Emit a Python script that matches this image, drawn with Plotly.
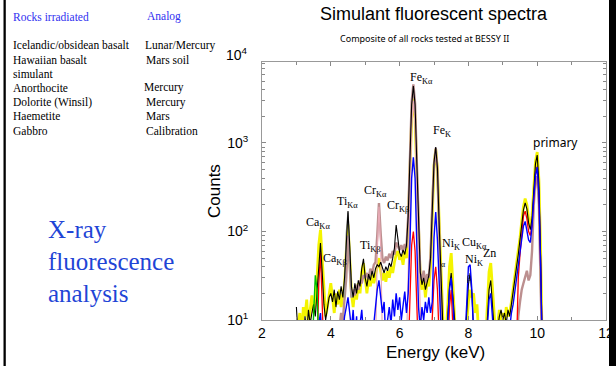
import plotly.graph_objects as go

N = None
# Energy sampling grid (keV), 3.00 .. 10.20 in 0.05 steps
ENERGY = [round(3.0 + 0.05 * i, 2) for i in range(145)]

YELLOW = ([4, 9, 12, 6, 14, 11, 17, 8, 13, 19, 12, 16, 30, 70, 105, 45, 18, 11, 14, 20] +
          [26, 18, 12, 20, 15, 22, 14, 19, 25, 60, 120, 50, 20, 14, 22, 17, 26, 20, 35, 44] +
          [28, 20, 30, 24, 34, 26, 32, 40, 50, 36, 28, 34, 27, 36, 30, 40, 34, 45, 55, 60] +
          [48, 55, 42, 60, 50, 110, 420, 1900, 3200, 1900, 420, 80, 30, 22, 32, 18, 28, 24, 40, 150] +
          [550, 850, 500, 130, 30, 8, 4, 7, 14, 40, 57, 25, 9, 4, 6, 4, 3, 5, 4, 9] +
          [16, 22, 18, 20, 12, 15, 5, 3, 4, 3, 6, 14, 35, 44, 22, 10, 6, 9, 13, 8] +
          [12, 9, 14, 11, 12, 16, 22, 32, 45, 62, 85, 130, 190, 235, 200, 140, 112, 150, 320, 620] +
          [790, 380, 60, 4, N])

BLACK = ([14, 4, 3, 8, 5, 11, 7, 13, 9, 12, 15, 11, 22, 50, 74, 35, 15, 10, 13, 18] +
         [20, 16, 22, 14, 21, 17, 24, 18, 30, 80, 170, 70, 24, 18, 26, 20, 28, 24, 38, 49] +
         [30, 24, 33, 28, 36, 30, 38, 42, 40, 45, 38, 34, 40, 36, 44, 40, 50, 65, 118, 75] +
         [58, 52, 62, 55, 70, 150, 600, 2700, 4400, 2700, 600, 120, 35, 25, 30, 22, 27, 32, 50, 180] +
         [600, 900, 520, 120, 25, 6, 3, 5, 10, 24, 34, 18, 6, 3, 3, 3, 4, 3, 5, 12] +
         [25, 34, 20, 8, 5, 4, 3, 3, 3, 4, 3, 10, 22, 28, 16, 7, 4, 8, 11, 13] +
         [10, 12, 9, 13, 11, 15, 20, 28, 40, 55, 78, 120, 175, 210, 180, 125, 105, 140, 300, 580] +
         [730, 350, 50, 4, N])

BROWN = ([N] * 20 +
         [N, N, N, N, N, 8, 12, 10, 16, 30, 90, 40, 18, 22, 19, 25, 22, 28, 26, 32] +
         [30, 34, 29, 38, 33, 42, 45, 90, 210, 95, 50, 44, 52, 47, 56, 50, 60, 55, 75, 68] +
         [62, 70, 60, 72, 66, 150, 650, 2900, 4600, 2800, 620, 110, 34, 28, 36, 26, 33, 30, 55, 200] +
         [560, 880, 500, 110, 20, 4] + [N] * 14 +
         [N] * 20 +
         [N] * 8 + [5, 11, 16, 22, 26, 30, 36, 28, 32, 60, 200, 380] +
         [420, 200, 35, 3, N])

PINK = ([N] * 20 + [N] * 20 +
        [N] * 6 + [5, 60, 190, 70, 6] + [N] * 9 +
        [N] * 4 + [5, 40, 300, 1500, 3000, 1600, 280, 40, 8, 3] + [N] * 6 +
        [N] * 20 + [N] * 20 + [N] * 20 + [N] * 5)

GRAY = ([N] * 20 +
        [N] * 8 + [18, 95, 165, 65, 18] + [N] * 7 +
        [N] * 100 + [N] * 5)

BLUE = ([N] * 12 + [3, 9, 12, 6, 3, 5, 3, 4] +
        [3, 6, 3, 4, 3, 5, 3, 7, 11, 14, 18, 12, 8, 13, 6, 11, 4, 9, 13, 7] +
        [4, 8, 3, 5, 3, 9, 14, 22, 28, 18, 12, 16, 6, 10, 14, 9, 17, 11, 20, 13] +
        [18, 10, 15, 21, 12, 20, 72, 400, 690, 400, 72, 14, 8, 14, 10, 16, 12, 18, 12, 16] +
        [85, 166, 80, 14, 4, 3, 3, 5, 9, 22, 30, 16, 5, 3, 3, 3, 3, 4, 6, 15] +
        [40, 42, 22, 7, 3, 3, 3, 3, 3, 3, 4, 9, 17, 20, 12, 5, 3, 6, 10, 8] +
        [6, 9, 5, 10, 8, 12, 15, 21, 30, 42, 58, 85, 115, 130, 105, 80, 75, 115, 240, 430] +
        [535, 260, 40, 4, N])

RED = ([N] * 12 + [4, 25, 58, 20, 4, N, N, N] +
       [N] * 20 + [N] * 20 +
       [N] * 5 + [4, 20, 70, 100, 60, 15, 4] + [N] * 6 + [4, 12] +
       [28, 40, 22, 6, N, N, N, N, 4, 14, 22, 10, 3] + [N] * 7 +
       [N] * 20 +
       [N] * 8 + [5, 30, 55, 100, 150, 170, 140, 100, 90, 120, 250, 440] +
       [540, 260, 40, 4, N])

GREEN = ([N] * 9 + [4, 15, 32, 22, 5] + [N] * 6 + [N] * 125)

SERIES = [
    ("yellow", YELLOW, "#f4f400", 2.8),
    ("brown", BROWN, "#bc8f8f", 2.4),
    ("pink", PINK, "#e8aab6", 1.2),
    ("gray", GRAY, "#9a9a9a", 1.4),
    ("red", RED, "#ff0000", 1.3),
    ("black", BLACK, "#000000", 1.1),
    ("blue", BLUE, "#0000ff", 1.4),
    ("green", GREEN, "#00c000", 1.4),
]

X_TICKS = [2, 4, 6, 8, 10, 12]
Y_TICKS = [10, 100, 1000]
Y_TICKTEXT = ["10<sup>1</sup>", "10<sup>2</sup>", "10<sup>3</sup>"]
Y_MINOR = [20, 30, 40, 50, 60, 70, 80, 90, 200, 300, 400, 500, 600, 700, 800, 900,
           2000, 3000, 4000, 5000, 6000, 7000, 8000]

PEAK_LABELS = [
    ("Ca<sub>Kα</sub>", 318, 223, 12), ("Ca<sub>Kβ</sub>", 335, 259, 12),
    ("Ti<sub>Kα</sub>", 347, 202, 12), ("Ti<sub>Kβ</sub>", 370, 246, 12),
    ("Cr<sub>Kα</sub>", 375, 191, 12), ("Cr<sub>Kβ</sub>", 398, 206, 12),
    ("Fe<sub>Kα</sub>", 421, 78, 12), ("Fe<sub>K</sub>", 442, 131, 12),
    ("Ni<sub>K</sub>", 451, 244, 12), ("α", 443, 264, 8),
    ("Cu<sub>Kα</sub>", 474, 243, 12), ("Zn", 489, 253, 12),
    ("Ni<sub>K</sub>", 474, 260, 12), ("β", 469, 278, 8),
]

ROCKS = ["Icelandic/obsidean basalt", "Hawaiian basalt", "simulant", "Anorthocite",
         "Dolorite (Winsil)", "Haemetite", "Gabbro"]
ROCK_Y = [45, 60, 74, 88, 102, 116, 131]
ANALOGS = ["Lunar/Mercury", "Mars soil", "Mercury", "Mercury", "Mars", "Calibration"]
ANALOG_POS = [(143, 45), (144, 60), (142, 88), (144, 102), (144, 116), (144, 131)]

W, H = 616, 366
L, R, T, B = 262, 606, 62, 320


def px(x):
    return (x - L) / (R - L)


def py(y):
    return (B - y) / (B - T)


def label(txt, x, y, size, family, color="black", xanchor="center", angle=0):
    return dict(text=txt, x=px(x), y=py(y), xref="paper", yref="paper", showarrow=False,
                xanchor=xanchor, yanchor="middle", textangle=angle,
                font=dict(family=family, size=size, color=color))


fig = go.Figure()
for name, vals, color, w in SERIES:
    fig.add_trace(go.Scatter(x=ENERGY, y=vals, mode="lines", name=name,
                             line=dict(color=color, width=w), connectgaps=False,
                             hoverinfo="skip"))

serif = "Liberation Serif, Times New Roman, serif"
sans = "Liberation Sans, Arial, sans-serif"
ann = []
for txt, x, y, s in PEAK_LABELS:
    ann.append(label(txt, x, y, s, serif))
ann.append(label("primary", 555, 142, 12, "Noto Sans"))

blue1 = "#3030f0"
ann.append(label("Rocks irradiated", 11, 17, 11.5, serif, blue1, "left"))
ann.append(label("Analog", 145, 17, 11.5, serif, blue1, "left"))
for txt, y in zip(ROCKS, ROCK_Y):
    ann.append(label(txt, 11, y, 11.5, serif, "black", "left"))
for txt, (x, y) in zip(ANALOGS, ANALOG_POS):
    ann.append(label(txt, x, y, 11.5, serif, "black", "left"))
for txt, y in zip(["X-ray", "fluorescence", "analysis"], [229, 261, 293]):
    ann.append(label(txt, 46, y, 25, serif, "#1f45d6", "left"))

ann.append(label("Simulant fluorescent spectra", 434, 14, 18, sans))
ann.append(label("Composite of all rocks tested at BESSY II", 424, 38, 9, "Noto Sans"))
ann.append(label("10<sup>4</sup>", 250, 54, 14, sans, "black", "right"))
ann.append(label("Energy (keV)", 435, 352, 17, sans))
ann.append(label("Counts", 214, 191, 17, sans, angle=-90))

shapes = [
    dict(type="rect", xref="paper", yref="paper", x0=px(3.5), x1=px(5.8), y0=py(H + 5), y1=py(-5),
         fillcolor="black", line=dict(width=0), layer="above"),
    dict(type="rect", xref="paper", yref="paper", x0=px(609), x1=px(620), y0=py(H + 5), y1=py(-5),
         fillcolor="black", line=dict(width=0), layer="above"),
]

fig.update_layout(
    width=W, height=H, autosize=False,
    margin=dict(l=L, r=W - R, t=T, b=H - B, autoexpand=False),
    paper_bgcolor="white", plot_bgcolor="white", showlegend=False,
    annotations=ann, shapes=shapes,
    xaxis=dict(range=[2, 12], tickvals=X_TICKS, ticks="inside", ticklen=4, tickcolor="#888",
               showline=True, linecolor="#999", linewidth=1, mirror="ticks", showgrid=False,
               zeroline=False, automargin=False, tickfont=dict(family=sans, size=14, color="black"),
               minor=dict(dtick=1, ticks="inside", ticklen=3, tickcolor="#888", showgrid=False)),
    yaxis=dict(type="log", range=[1, 3.915], tickvals=Y_TICKS, ticktext=Y_TICKTEXT,
               ticks="inside", ticklen=4, tickcolor="#888", showline=True, linecolor="#999",
               linewidth=1, mirror="ticks", showgrid=False, zeroline=False, automargin=False,
               ticklabelstandoff=10, tickfont=dict(family=sans, size=14, color="black"),
               minor=dict(tickvals=Y_MINOR, ticks="inside", ticklen=3, tickcolor="#888",
                          showgrid=False)),
)

fig.write_html("out.html", config={"displayModeBar": False, "responsive": False},
               post_script="document.body.style.margin='0';document.body.style.overflow='hidden';")
